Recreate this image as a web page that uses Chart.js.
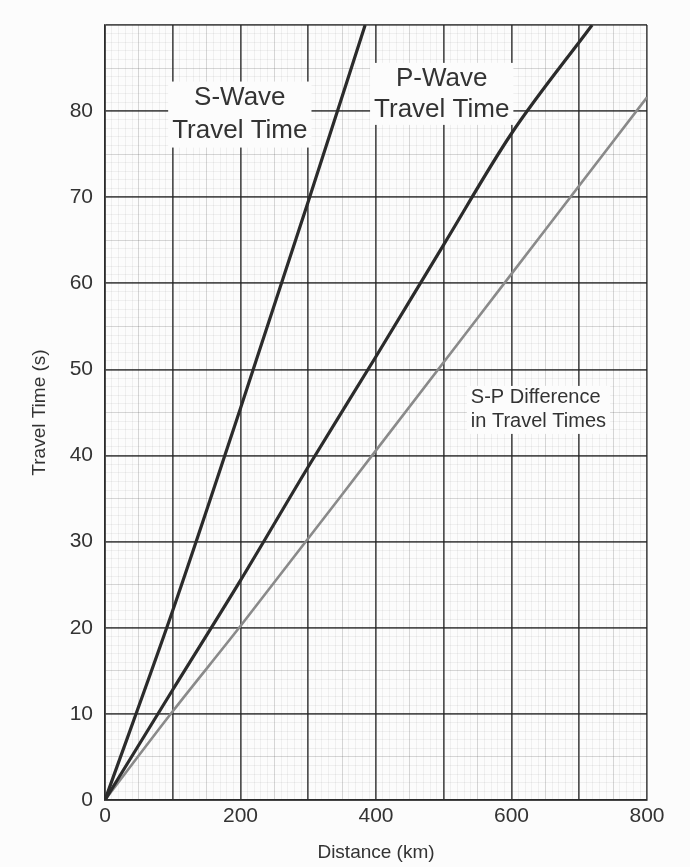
<!DOCTYPE html>
<html>
<head>
<meta charset="utf-8">
<title>Seismic Wave Travel Times</title>
<script src="https://cdn.jsdelivr.net/npm/chart.js@4.4.1/dist/chart.umd.min.js"></script>
<style>
  html, body { margin: 0; padding: 0; background: #fcfcfc; }
  #wrap { width: 690px; height: 867px; position: relative; }
</style>
</head>
<body>
<div id="wrap"><canvas id="chart"></canvas></div>
<script>
// Travel-time curves: distance (km) against time (s)
const sWaveKm  = [0, 100, 200, 300, 384];
const sWaveSec = [0, 22, 45.5, 69.5, 90];

const pWaveKm  = [0, 100, 200, 300, 400, 500, 600, 719];
const pWaveSec = [0, 12.8, 25.5, 38.7, 51.5, 64.5, 77.4, 90];

const spDiffKm  = [0, 100, 200, 400, 600, 800];
const spDiffSec = [0, 10.3, 20.2, 40.6, 61.1, 81.6];

// Axis tick labels that are printed
const xTickLabels = [0, 200, 400, 600, 800];
const yTickLabels = [0, 10, 20, 30, 40, 50, 60, 70, 80];

const FONT = "'Liberation Sans', Arial, Helvetica, sans-serif";
const INK = '#333333';
const PAPER = '#fcfcfc';

function toPoints(xs, ys) {
  return xs.map((x, i) => ({ x: x, y: ys[i] }));
}

// Text callouts placed in data coordinates, each on a blank backing box
const callouts = [
  { lines: ['S-Wave', 'Travel Time'], x: 199, y: 79.6, align: 'center', size: 26, lineH: 33 },
  { lines: ['P-Wave', 'Travel Time'], x: 497, y: 82.0, align: 'center', size: 26, lineH: 31 },
  { lines: ['S-P Difference', 'in Travel Times'], x: 540, y: 45.3, align: 'left', size: 20, lineH: 24 }
];

const calloutPlugin = {
  id: 'callouts',
  beforeDatasetsDraw(chart) {
    const ctx = chart.ctx;
    const xs = chart.scales.x, ys = chart.scales.y;
    ctx.save();
    callouts.forEach(c => {
      ctx.font = c.size + 'px ' + FONT;
      const px = xs.getPixelForValue(c.x);
      const py = ys.getPixelForValue(c.y);
      const n = c.lines.length;
      const widths = c.lines.map(t => ctx.measureText(t).width);
      const maxW = Math.max.apply(null, widths);
      const left = c.align === 'center' ? px - maxW / 2 : px;
      const top = py - (n * c.lineH) / 2;
      ctx.fillStyle = PAPER;
      ctx.fillRect(left - 4, top, maxW + 8, n * c.lineH);
      ctx.fillStyle = INK;
      ctx.textAlign = c.align;
      ctx.textBaseline = 'middle';
      c.lines.forEach((t, i) => {
        ctx.fillText(t, px, top + c.lineH * (i + 0.5));
      });
    });
    ctx.restore();
  }
};

// Graph-paper grid: heavy every major step, medium at the half step, faint otherwise
function gridColor(major, half) {
  return ctx => {
    const v = Math.round(ctx.tick.value);
    if (v % major === 0) return 'rgba(35,35,35,0.8)';
    if (v % half === 0) return 'rgba(60,60,60,0.2)';
    return 'rgba(90,90,90,0.08)';
  };
}
function gridWidth(major) {
  return ctx => (Math.round(ctx.tick.value) % major === 0 ? 1.7 : 1);
}

new Chart(document.getElementById('chart'), {
  type: 'line',
  data: {
    datasets: [
      {
        label: 'S-Wave Travel Time',
        data: toPoints(sWaveKm, sWaveSec),
        borderColor: '#2b2b2b',
        borderWidth: 3.2,
        pointRadius: 0,
        cubicInterpolationMode: 'monotone'
      },
      {
        label: 'P-Wave Travel Time',
        data: toPoints(pWaveKm, pWaveSec),
        borderColor: '#2b2b2b',
        borderWidth: 3.2,
        pointRadius: 0,
        cubicInterpolationMode: 'monotone'
      },
      {
        label: 'S-P Difference in Travel Times',
        data: toPoints(spDiffKm, spDiffSec),
        borderColor: '#8a8a8a',
        borderWidth: 2.6,
        pointRadius: 0,
        cubicInterpolationMode: 'monotone'
      }
    ]
  },
  options: {
    responsive: true,
    maintainAspectRatio: false,
    animation: false,
    layout: { padding: { left: 10, right: 43, top: 25, bottom: 0 } },
    plugins: {
      legend: { display: false },
      tooltip: { enabled: false }
    },
    scales: {
      x: {
        type: 'linear',
        min: 0,
        max: 800,
        afterFit: s => { s.height = 67; },
        ticks: {
          stepSize: 10,
          autoSkip: false,
          maxRotation: 0,
          minRotation: 0,
          padding: 4,
          color: INK,
          font: { family: FONT, size: 21 },
          callback: v => xTickLabels.includes(Math.round(v)) ? String(Math.round(v)) : ''
        },
        grid: {
          drawTicks: false,
          color: gridColor(100, 50),
          lineWidth: gridWidth(100)
        },
        border: { display: true, color: 'rgba(35,35,35,0.8)', width: 1.7 },
        title: {
          display: true,
          text: 'Distance (km)',
          color: INK,
          font: { family: FONT, size: 19 },
          padding: { top: 0, bottom: 3 }
        }
      },
      y: {
        type: 'linear',
        min: 0,
        max: 90,
        afterFit: s => { s.width = 95; },
        ticks: {
          stepSize: 1,
          autoSkip: false,
          padding: 12,
          color: INK,
          font: { family: FONT, size: 21 },
          callback: v => yTickLabels.includes(Math.round(v)) ? String(Math.round(v)) : ''
        },
        grid: {
          drawTicks: false,
          color: gridColor(10, 5),
          lineWidth: gridWidth(10)
        },
        border: { display: true, color: 'rgba(35,35,35,0.8)', width: 1.7 },
        title: {
          display: true,
          text: 'Travel Time (s)',
          color: INK,
          font: { family: FONT, size: 19 },
          padding: { top: 18, bottom: 0 }
        }
      }
    }
  },
  plugins: [calloutPlugin]
});
</script>
</body>
</html>
